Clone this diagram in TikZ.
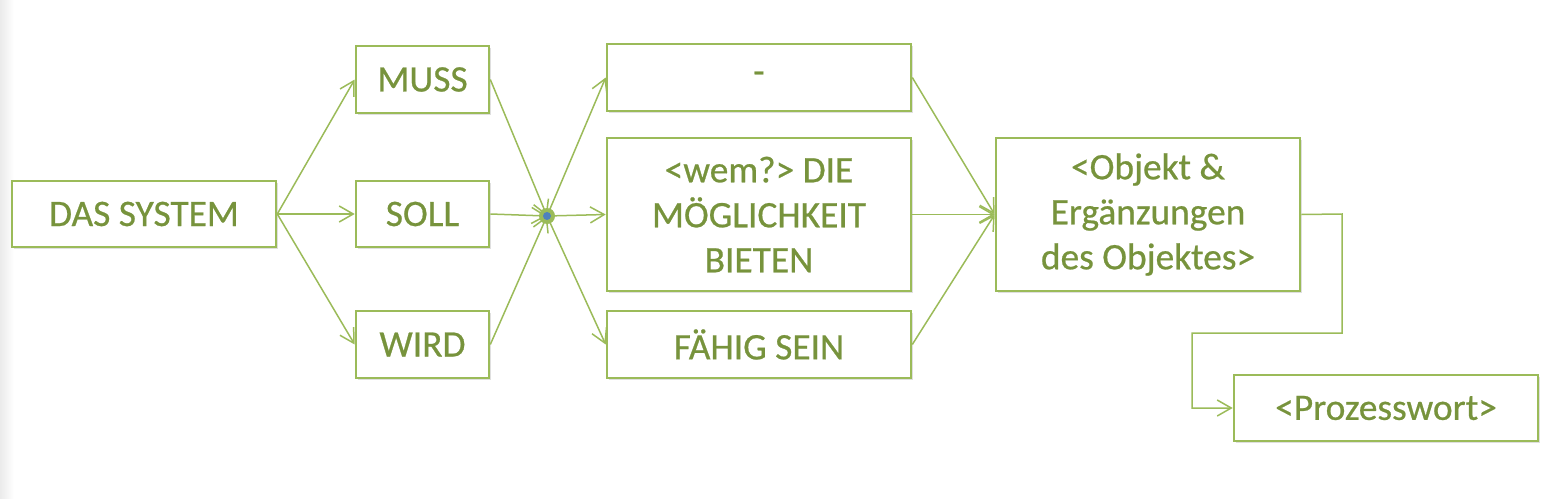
\documentclass[tikz,border=0pt]{standalone}
\usepackage{fontspec}
\setmainfont{Carlito}[RawFeature={embolden=0.6}]
\usetikzlibrary{arrows.meta,shadows}
\definecolor{lineg}{HTML}{9BBB59}
\definecolor{textg}{HTML}{77933C}
\definecolor{dotb}{HTML}{4F81BD}
\begin{document}
\begin{tikzpicture}[x=0.5pt,y=-0.5pt,
  box/.style={draw=lineg,line width=1.3pt,fill=white,inner sep=0pt,
    drop shadow={opacity=0.25,shadow xshift=1.2pt,shadow yshift=-1.2pt},
    text=textg,font=\fontsize{18.7}{22.5}\selectfont,align=center},
  conn/.style={draw=lineg,line width=0.75pt,-{Straight Barb[length=7pt,width=8pt,line width=0.75pt]}},
  plain/.style={draw=lineg,line width=0.75pt}]
\useasboundingbox (0,0) rectangle (1558,498);
\shade[left color=black!8,right color=white] (0,0) rectangle (14,498);
% boxes
\node[box,minimum width=132pt,minimum height=33pt] (sys) at (144,214) {DAS SYSTEM};
\node[box,minimum width=66.5pt,minimum height=33.5pt] (muss) at (422.5,79.5) {MUSS};
\node[box,minimum width=66.5pt,minimum height=33pt] (soll) at (422.5,214) {SOLL};
\node[box,minimum width=66.5pt,minimum height=33.5pt] (wird) at (422.5,344.5) {WIRD};
\node[box,minimum width=152pt,minimum height=33.5pt] (dash) at (759,77.5) {-};
\node[box,minimum width=152pt,minimum height=76.5pt] (mid) at (759,214.5) {<wem?> DIE\\MÖGLICHKEIT\\BIETEN};
\node[box,minimum width=152pt,minimum height=33.5pt] (fah) at (759,344.5) {FÄHIG SEIN};
\node[box,minimum width=152pt,minimum height=76.5pt] (obj) at (1148,214.5) {<Objekt \&\\Ergänzungen\\des Objektes>};
\node[box,minimum width=152pt,minimum height=33pt] (proz) at (1386,408) {<Prozesswort>};
% junction
\coordinate (j) at (547,216);
\draw[conn] (sys.east) -- (muss.west);
\draw[conn] (sys.east) -- (soll.west);
\draw[conn] (sys.east) -- (wird.west);
\draw[conn] (muss.east) -- (j);
\draw[conn] (soll.east) -- (j);
\draw[conn] (wird.east) -- (j);
\draw[conn] (j) -- (dash.west);
\draw[conn] (j) -- (mid.west);
\draw[conn] (j) -- (fah.west);
\draw[conn] (dash.east) -- (obj.west);
\draw[conn] (mid.east) -- (obj.west);
\draw[conn] (fah.east) -- (obj.west);
\node[circle,fill=lineg,minimum size=8pt,inner sep=0pt] (jd) at (j) {};
\node[circle,fill=dotb,minimum size=4pt,inner sep=0pt] at (j) {};
\coordinate (e1) at (1342,214);
\coordinate (e2) at (1342,333);
\coordinate (e3) at (1192,333);
\coordinate (e4) at (1192,408);
\draw[conn] (obj.east) -- (e1) -- (e2) -- (e3) -- (e4) -- (proz.west);
\end{tikzpicture}
\end{document}
